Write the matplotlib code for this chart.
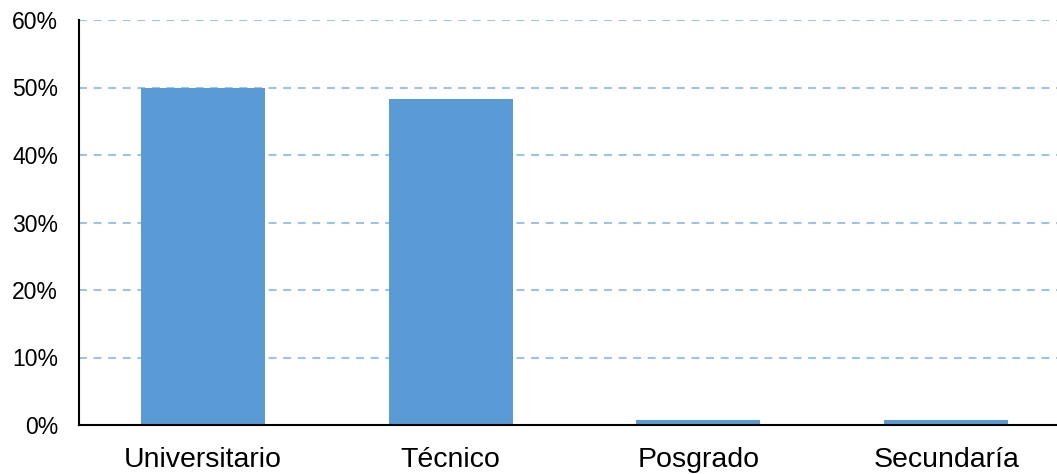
import numpy as np
import matplotlib.pyplot as plt

categories = ["Universitario", "Técnico", "Posgrado", "Secundaría"]
values = [50.0, 48.3, 0.8, 0.8]
yticks = [0, 10, 20, 30, 40, 50, 60]

plt.rcParams['font.family'] = ['Liberation Sans', 'DejaVu Sans']

fig = plt.figure(figsize=(10.57, 4.74), dpi=100)
ax = fig.add_axes([79 / 1057, 1 - 425 / 474, 991 / 1057, 405 / 474])

x = np.arange(len(categories))
ax.bar(x, values, width=0.5, color='#5B9BD5', zorder=3)

ax.set_xlim(-0.5, len(categories) - 0.5)
ax.set_ylim(0, 60)
ax.set_yticks(yticks)
ax.set_yticklabels([f"{t}%" for t in yticks], fontsize=16.5)
ax.set_xticks(x)
ax.set_xticklabels(categories, fontsize=20.5)
ax.tick_params(axis='both', length=0)
ax.tick_params(axis='y', pad=15)
ax.tick_params(axis='x', pad=16)

for t in yticks[1:]:
    ax.axhline(t, color='#9DC3E6', linestyle=(0, (3.8, 3.2)), linewidth=1.5, zorder=1)

for s in ['top', 'right']:
    ax.spines[s].set_visible(False)
ax.spines['left'].set_linewidth(1.5)
ax.spines['bottom'].set_linewidth(1.5)
ax.spines['bottom'].set_zorder(4)

fig.savefig('out.png', dpi=100)
